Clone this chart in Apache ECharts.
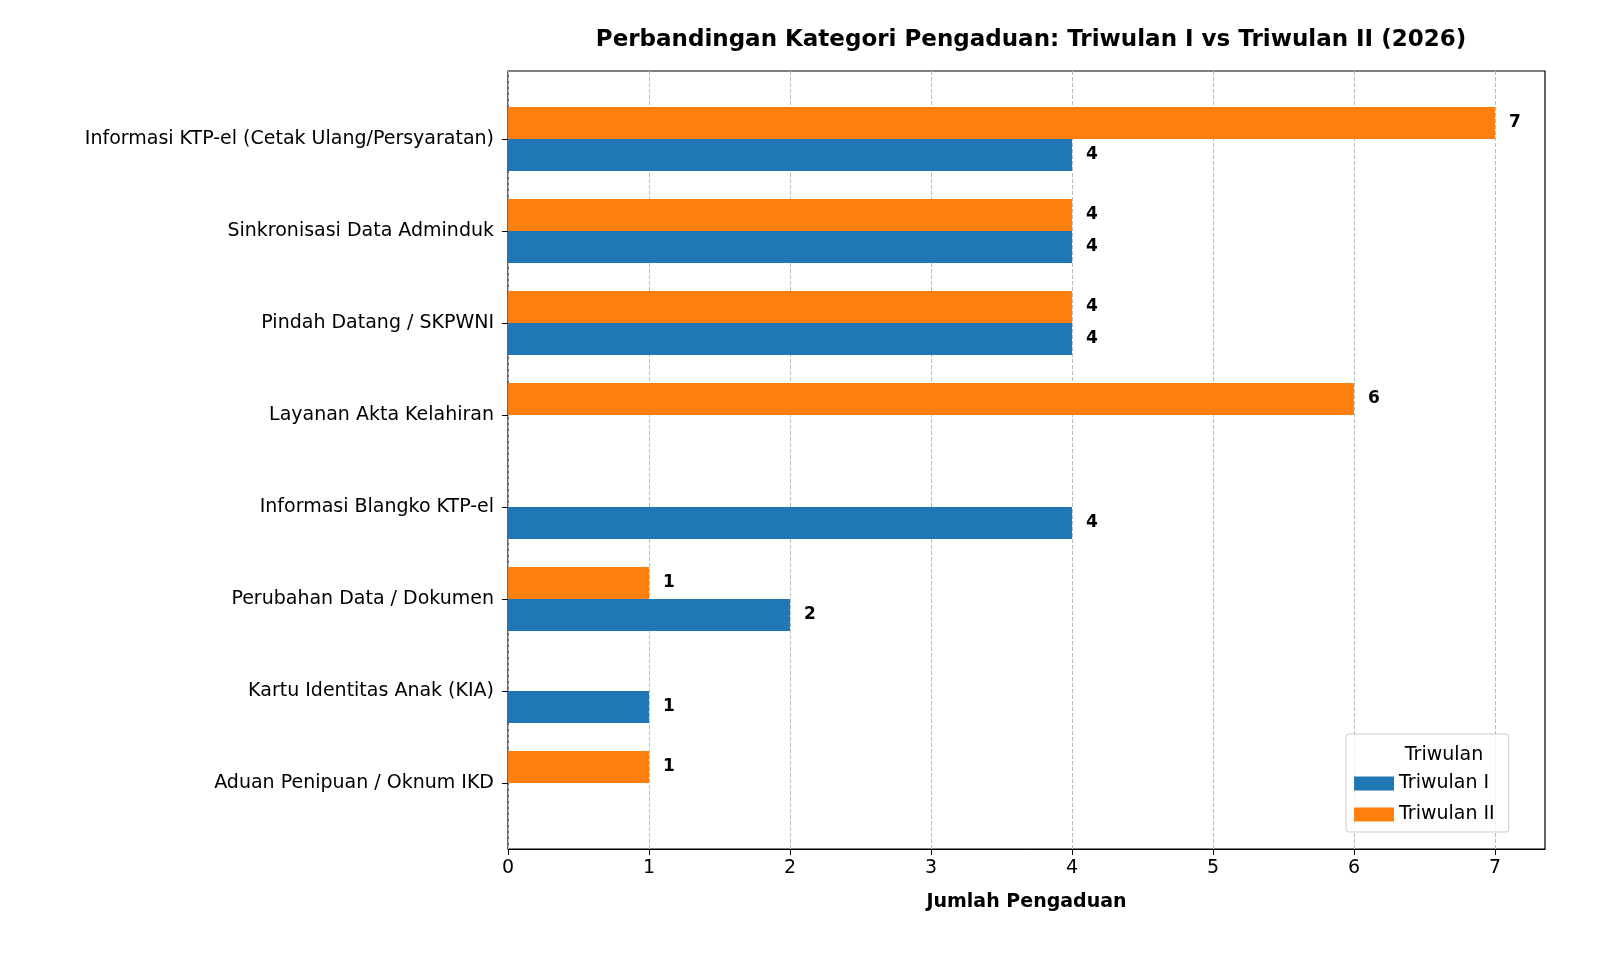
<!DOCTYPE HTML>
<html>
<head>
<meta charset="UTF-8">
<style>
  html,body{margin:0;width:100%;height:100%;background:#fff;}
  #wrap{width:1600px;height:960px;}
</style>
</head>
<body>
<div id="wrap"></div>
<script src="https://cdn.jsdelivr.net/npm/echarts@6/dist/echarts.min.js"></script>
<script>
const categories = [
  'Informasi KTP-el (Cetak Ulang/Persyaratan)',
  'Sinkronisasi Data Adminduk',
  'Pindah Datang / SKPWNI',
  'Layanan Akta Kelahiran',
  'Informasi Blangko KTP-el',
  'Perubahan Data / Dokumen',
  'Kartu Identitas Anak (KIA)',
  'Aduan Penipuan / Oknum IKD'
];
const triwulan1 = [4, 4, 4, 0, 4, 2, 1, 0];
const triwulan2 = [7, 4, 4, 6, 0, 1, 0, 1];
const xTicks = [0, 1, 2, 3, 4, 5, 6, 7];

const font = 'DejaVu Sans';
let chart = echarts.init(document.getElementById('wrap'));

function labelCfg() {
  return {
    show: true, position: 'right', distance: 14,
    fontFamily: font, fontWeight: 'bold', fontSize: 17, color: '#000',
    formatter: p => p.value > 0 ? p.value : ''
  };
}

chart.setOption({
  animation: false,
  textStyle: {fontFamily: font},
  title: [{
    text: 'Perbandingan Kategori Pengaduan: Triwulan I vs Triwulan II (2026)',
    left: 1026, top: 24, textAlign: 'center',
    textStyle: {fontFamily: font, fontWeight: 'bold', fontSize: 23, color: '#000'}
  }, {
    text: 'Triwulan', left: 1439, top: 741, textAlign: 'center',
    textStyle: {fontFamily: font, fontWeight: 'normal', fontSize: 19, color: '#000'}
  }],
  legend: {
    orient: 'vertical', left: 1346, top: 734, width: 186, height: 102,
    padding: [40, 14, 8, 8],
    icon: 'rect',
    itemWidth: 40, itemHeight: 14, itemGap: 12,
    borderColor: '#ccc', borderWidth: 1, borderRadius: 3,
    backgroundColor: 'rgba(255,255,255,0.8)',
    textStyle: {fontFamily: font, fontSize: 19, color: '#000'},
    data: ['Triwulan I', 'Triwulan II']
  },
  grid: [
    {left: 508, right: 55, top: 93, bottom: 131},
    {left: 508, right: 55, top: 71, bottom: 111, show: true, borderColor: '#000', borderWidth: 1.2}
  ],
  xAxis: [{
    gridIndex: 0, type: 'value', min: 0, max: 7.355, show: false
  }, {
    gridIndex: 1, type: 'value', min: 0, max: 7.355, interval: 1,
    name: 'Jumlah Pengaduan', nameLocation: 'middle', nameGap: 44,
    nameTextStyle: {fontFamily: font, fontWeight: 'bold', fontSize: 19, color: '#000'},
    axisLine: {show: true, lineStyle: {color: '#000'}},
    axisTick: {show: true, length: 6, lineStyle: {color: '#000'}, customValues: xTicks},
    axisLabel: {fontFamily: font, fontSize: 19, color: '#000', margin: 10, customValues: xTicks},
    splitLine: {show: true, lineStyle: {type: 'dashed', color: '#bbb'}}
  }],
  yAxis: [{
    gridIndex: 0, type: 'category', data: categories, inverse: true,
    axisLine: {show: false},
    axisTick: {show: true, alignWithLabel: true, length: 6, lineStyle: {color: '#000'}},
    axisLabel: {fontFamily: font, fontSize: 19, color: '#000', margin: 14},
    splitLine: {show: false}
  }, {
    gridIndex: 1, type: 'value', show: false, min: 0, max: 1
  }],
  series: [{
    name: 'Triwulan II', type: 'bar', data: triwulan2,
    xAxisIndex: 0, yAxisIndex: 0,
    barWidth: 32, barGap: '0%',
    itemStyle: {color: '#ff7f0e'}, label: labelCfg()
  }, {
    name: 'Triwulan I', type: 'bar', data: triwulan1,
    xAxisIndex: 0, yAxisIndex: 0,
    barWidth: 32, barGap: '0%',
    itemStyle: {color: '#1f77b4'}, label: labelCfg()
  }]
});
</script>
</body>
</html>
